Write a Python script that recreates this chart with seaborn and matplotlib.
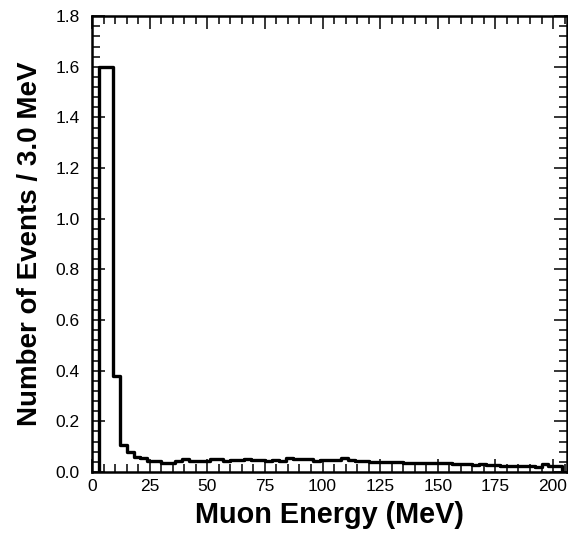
import numpy as np
import pandas as pd
import seaborn as sns
import matplotlib
matplotlib.use("Agg")
import matplotlib.pyplot as plt
from matplotlib.ticker import MultipleLocator, FormatStrFormatter

# histogram contents, 3 MeV bins starting at 3.0 MeV
bin_start = 3.0
bin_width = 3.0
events = [
    1.6, 1.6, 0.38, 0.105, 0.078, 0.06, 0.055, 0.045, 0.045, 0.037,
    0.035, 0.045, 0.052, 0.043, 0.043, 0.043, 0.052, 0.052, 0.043, 0.046,
    0.048, 0.053,
    # 69 - 132
    0.046, 0.046, 0.045, 0.047, 0.045, 0.056, 0.052, 0.050, 0.050, 0.044,
    0.048, 0.048, 0.048, 0.055, 0.046, 0.045, 0.045, 0.040, 0.038, 0.038,
    0.038,
    # 132 - 204
    0.040, 0.036, 0.034, 0.037, 0.037, 0.036, 0.036, 0.034, 0.033, 0.030,
    0.030, 0.028, 0.030, 0.027, 0.027, 0.025, 0.024, 0.024, 0.022, 0.024,
    0.020, 0.030, 0.022, 0.022,
]
x_ticks = [0, 25, 50, 75, 100, 125, 150, 175, 200]
y_ticks = [0.0, 0.2, 0.4, 0.6, 0.8, 1.0, 1.2, 1.4, 1.6, 1.8]

edges = bin_start + bin_width * np.arange(len(events) + 1)
df = pd.DataFrame({"energy": (edges[:-1] + edges[1:]) / 2, "events": events})

sns.set_style("ticks")
plt.rcParams["font.family"] = ["Liberation Sans", "DejaVu Sans"]

fig = plt.figure(figsize=(5.68, 5.37), dpi=100)
ax = fig.add_axes([0.162, 0.121, 0.836, 0.849])

sns.histplot(data=df, x="energy", weights="events", binwidth=bin_width,
             binrange=(edges[0], edges[-1]),
             element="step", fill=False, color="black", linewidth=2.4, ax=ax)
# close the outline down to zero at both ends
ax.vlines([edges[0], edges[-1]], 0, [events[0], events[-1]], color="black", linewidth=2.4)

ax.set_xlim(0, 206)
ax.set_ylim(0, 1.8)
ax.set_xticks(x_ticks)
ax.set_yticks(y_ticks)
ax.xaxis.set_minor_locator(MultipleLocator(5))
ax.yaxis.set_minor_locator(MultipleLocator(0.04))
ax.yaxis.set_major_formatter(FormatStrFormatter("%.1f"))

for s in ax.spines.values():
    s.set_visible(True)
    s.set_linewidth(1.8)
    s.set_color("black")
ax.tick_params(which="both", direction="in", top=True, right=True, color="black",
               width=1.1, labelsize=12.5, labelcolor="black")
ax.tick_params(which="major", length=9.5)
ax.tick_params(which="minor", length=5.5)
ax.tick_params(axis="y", pad=9)
ax.tick_params(axis="x", pad=5)

ax.set_xlabel("Muon Energy (MeV)", fontsize=20.8, fontweight="bold", labelpad=5, color="black")
ax.set_ylabel("Number of Events / 3.0 MeV", fontsize=20, fontweight="bold", labelpad=9, color="black")

fig.savefig("out.png", dpi=100, facecolor="white")
